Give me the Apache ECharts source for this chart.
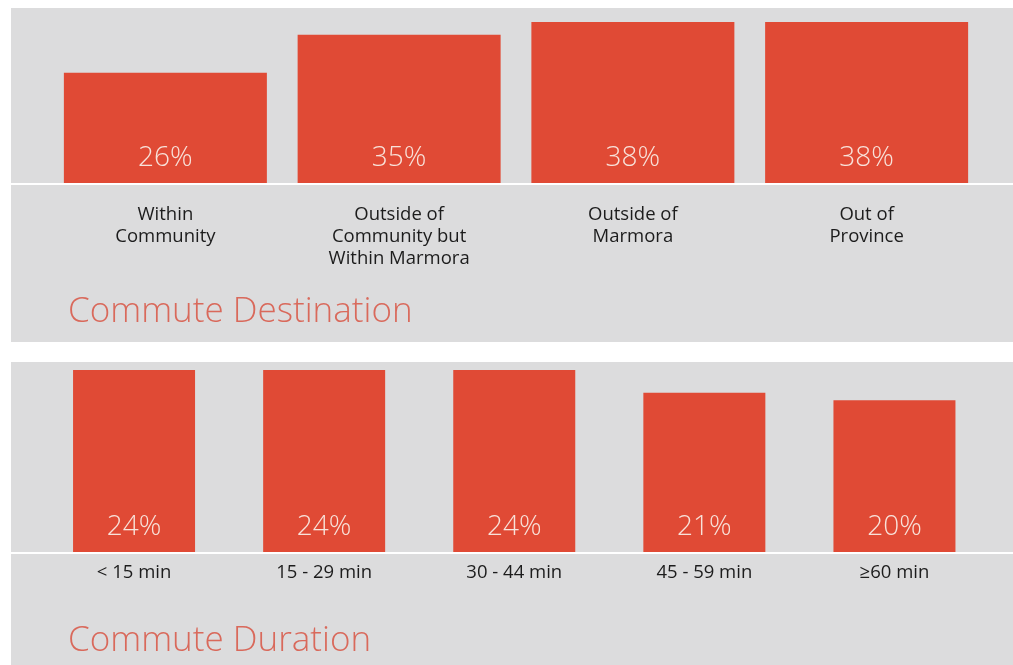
<!DOCTYPE html>
<html>
<head>
<meta charset="utf-8">
<script src="https://cdn.jsdelivr.net/npm/echarts@6/dist/echarts.min.js"></script>
<style>
  html, body { margin: 0; padding: 0; background: #ffffff; }
  #chart { width: 1013px; height: 665px; }
</style>
</head>
<body>
<div id="chart"></div>
<script>
// Commute destination shares
const destinationCategories = ['Within\nCommunity', 'Outside of\nCommunity but\nWithin Marmora', 'Outside of\nMarmora', 'Out of\nProvince'];
const destinationValues = [26, 35, 38, 38];

// Commute duration shares
const durationCategories = ['< 15 min', '15 - 29 min', '30 - 44 min', '45 - 59 min', '≥60 min'];
const durationValues = [24, 24, 24, 21, 20];

const titles = ['Commute Destination', 'Commute Duration'];

const BAR = '#e04a35';
const PANEL = '#dcdcdd';
const TITLE = '#d9695b';
const FONT = '"Open Sans", "Noto Sans", sans-serif';

// panel layout (pixels)
const W = 1013;
const panelTop = { x: 11, y: 8, w: W - 11, h: 334 };
const panelBottom = { x: 11, y: 362, w: W - 11, h: 303 };
const baseTop = 183;
const baseBottom = 552;

const chart = echarts.init(document.getElementById('chart'), null, { renderer: 'canvas' });

function valueLabel() {
  return {
    show: true,
    position: 'insideBottom',
    distance: 11,
    color: '#f8e2da',
    fontFamily: FONT,
    fontWeight: 300,
    fontSize: 28,
    formatter: p => p.value + '%'
  };
}

function categoryLabel(margin) {
  return { color: '#1c1c1c', fontFamily: FONT, fontSize: 18.5, lineHeight: 22, margin: margin, interval: 0 };
}

chart.setOption({
  animation: false,
  backgroundColor: '#ffffff',
  graphic: [
    { type: 'rect', z: -10, shape: { x: panelTop.x, y: panelTop.y, width: panelTop.w, height: panelTop.h }, style: { fill: PANEL } },
    { type: 'rect', z: -10, shape: { x: panelBottom.x, y: panelBottom.y, width: panelBottom.w, height: panelBottom.h }, style: { fill: PANEL } },
    { type: 'line', z: -5, shape: { x1: panelTop.x, y1: baseTop + 1, x2: W, y2: baseTop + 1 }, style: { stroke: '#ffffff', lineWidth: 2 } },
    { type: 'line', z: -5, shape: { x1: panelBottom.x, y1: baseBottom + 1, x2: W, y2: baseBottom + 1 }, style: { stroke: '#ffffff', lineWidth: 2 } },
    { type: 'text', left: 68, top: 295, style: { text: titles[0], fill: TITLE, font: '300 35px ' + FONT } },
    { type: 'text', left: 68, top: 624, style: { text: titles[1], fill: TITLE, font: '300 35px ' + FONT } }
  ],
  grid: [
    { left: 48.5, right: W - 983.5, top: 22, height: baseTop - 22, containLabel: false },
    { left: 39, right: W - 989.5, top: 370, height: baseBottom - 370, containLabel: false }
  ],
  xAxis: [
    {
      type: 'category', gridIndex: 0, data: destinationCategories,
      axisLine: { show: false }, axisTick: { show: false },
      axisLabel: categoryLabel(21)
    },
    {
      type: 'category', gridIndex: 1, data: durationCategories,
      axisLine: { show: false }, axisTick: { show: false },
      axisLabel: categoryLabel(10)
    }
  ],
  yAxis: [
    { type: 'value', gridIndex: 0, min: 0, max: 38, show: false, splitLine: { show: false } },
    { type: 'value', gridIndex: 1, min: 0, max: 24, show: false, splitLine: { show: false } }
  ],
  series: [
    {
      type: 'bar', xAxisIndex: 0, yAxisIndex: 0, data: destinationValues,
      barWidth: 203, itemStyle: { color: BAR }, label: valueLabel()
    },
    {
      type: 'bar', xAxisIndex: 1, yAxisIndex: 1, data: durationValues,
      barWidth: 122, itemStyle: { color: BAR }, label: valueLabel()
    }
  ]
});
</script>
</body>
</html>
